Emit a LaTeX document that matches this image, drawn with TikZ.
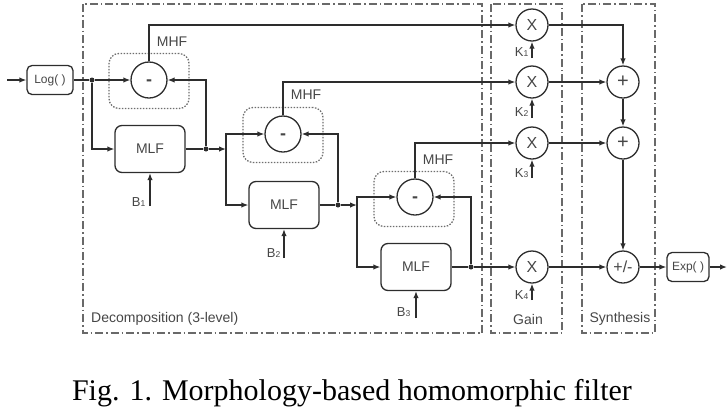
\documentclass[tikz,border=0pt]{standalone}
\usepackage{fontspec}
\setmainfont{Liberation Sans}
\newfontfamily\capfont{Liberation Serif}
\usetikzlibrary{arrows.meta,positioning}
\definecolor{cLine}{RGB}{45,45,45}
\definecolor{cFrame}{RGB}{105,105,105}
\definecolor{cDot}{RGB}{110,110,110}
\definecolor{cText}{RGB}{70,70,70}
\newcommand{\idx}[1]{{\fontsize{8.5}{9}\selectfont\raisebox{-0.8pt}{#1}}}
\newcommand{\mnus}{\raisebox{-5pt}[0pt][0pt]{-}}
\tikzset{
  basebox/.style={rectangle,rounded corners=7pt,draw=cLine,line width=1.3pt,
                  align=center,inner sep=1pt,text=cText},
  mlfnode/.style={basebox,minimum width=70pt,minimum height=47pt,
                  font=\fontsize{14}{16}\selectfont},
  ionode/.style={basebox,rounded corners=5pt,minimum height=29pt,
                 font=\fontsize{12}{14}\selectfont},
  opnode/.style={circle,draw=cLine,line width=1.3pt,minimum size=32pt,
                 inner sep=0pt,text=cText,font=\fontsize{16}{17}\selectfont},
  plusnode/.style={opnode,font=\fontsize{20}{21}\selectfont},
  subnode/.style={opnode,minimum size=36pt,font=\fontsize{18}{19}\selectfont\bfseries},
  mhfbox/.style={rectangle,rounded corners=10pt,draw=cDot,line width=1.3pt,
                 dash pattern=on 1.5pt off 1.5pt,
                 minimum width=80pt,minimum height=55pt},
  framebox/.style={draw=cFrame,line width=1.3pt,
                   dash pattern=on 8pt off 3pt on 1.5pt off 3pt},
  lbl/.style={font=\fontsize{14}{16}\selectfont,text=cText,inner sep=1pt},
  parlbl/.style={font=\fontsize{13}{15}\selectfont,text=cText,inner sep=0.5pt},
  dot/.style={circle,fill=cLine,inner sep=0pt,minimum size=5pt},
  arr/.style={-{Latex[length=7pt,width=5.5pt]},line width=1.3pt,color=cLine},
  ln/.style={line width=1.3pt,color=cLine}
}

\begin{document}
\begin{tikzpicture}[x=1pt,y=-1pt]
  \useasboundingbox (0,0) rectangle (728,408);

  \draw[framebox] (83,4) rectangle (482,333);
  \draw[framebox] (491,4) rectangle (562,333);
  \draw[framebox] (582,4) rectangle (655,333);
  \node[lbl,anchor=west] (declbl) at (90,319) {Decomposition (3-level)};
  \node[lbl] (gainlbl) at (528,319) {Gain};
  \node[lbl] (synlbl) at (620,319) {Synthesis};

  \node[ionode,minimum width=46pt] (log) at (50,80) {Log( )};
  \node[ionode,minimum width=42pt] (exp) at (688,267) {Exp( )};
  \coordinate (in) at (7,80);
  \coordinate (out) at (727,267);

  \node[mhfbox] (mhf1) at (149,81) {};
  \node[subnode] (c1) at (149,80) {\mnus};
  \node[lbl] (mhf1lbl) at (172,42) {MHF};
  \node[mlfnode] (mlf1) at (150,149) {MLF};

  \node[mhfbox] (mhf2) at (283,135) {};
  \node[subnode] (c2) at (283,134) {\mnus};
  \node[lbl] (mhf2lbl) at (306,95) {MHF};
  \node[mlfnode] (mlf2) at (284,205) {MLF};

  \node[mhfbox] (mhf3) at (414,199) {};
  \node[subnode] (c3) at (415,197) {\mnus};
  \node[lbl] (mhf3lbl) at (438,160) {MHF};
  \node[mlfnode] (mlf3) at (416,267) {MLF};

  \node[dot] (j1) at (92,80) {};
  \node[dot] (d1) at (206,149) {};
  \node[dot] (d2) at (338,205) {};
  \node[dot] (d3) at (471,267) {};
  \coordinate (s2) at (226,149);
  \coordinate (s3) at (357,205);

  \node[opnode] (x1) at (532,25) {X};
  \node[opnode] (x2) at (532,82) {X};
  \node[opnode] (x3) at (532,143) {X};
  \node[opnode] (x4) at (532,267) {X};
  \node[plusnode] (p1) at (623,82) {+};
  \node[plusnode] (p2) at (623,143) {+};
  \node[opnode] (pm) at (623,267) {+/-};

  \coordinate (b1) at (150,206);
  \coordinate (b2) at (284,258);
  \coordinate (b3) at (416,318);
  \node[parlbl,anchor=east] (b1lbl) at (146,202) {B\idx{1}};
  \node[parlbl,anchor=east] (b2lbl) at (281,253) {B\idx{2}};
  \node[parlbl,anchor=east] (b3lbl) at (411,312) {B\idx{3}};

  \coordinate (k1) at (532,58);
  \coordinate (k2) at (532,118);
  \coordinate (k3) at (532,178);
  \coordinate (k4) at (532,300);
  \node[parlbl,anchor=east] (k1lbl) at (529,52) {K\idx{1}};
  \node[parlbl,anchor=east] (k2lbl) at (529,112) {K\idx{2}};
  \node[parlbl,anchor=east] (k3lbl) at (529,173) {K\idx{3}};
  \node[parlbl,anchor=east] (k4lbl) at (529,295) {K\idx{4}};

  \foreach \f/\t in {log/j1,mlf1/d1,mlf2/d2,mlf3/d3}
    \draw[ln] (\f) -- (\t);
  \foreach \f/\t in {in/log,j1/c1,d1/s2,d2/s3,d3/x4,x2/p1,p1/p2,x3/p2,p2/pm,
                     x4/pm,pm/exp,exp/out,b1/mlf1,b2/mlf2,b3/mlf3,
                     k1/x1,k2/x2,k3/x3,k4/x4}
    \draw[arr] (\f) -- (\t);
  \foreach \f/\t in {j1/mlf1,d1/c1,s2/c2,s2/mlf2,d2/c2,s3/c3,s3/mlf3,d3/c3,
                     c1/x1,c2/x2,c3/x3}
    \draw[arr] (\f) |- (\t);
  \draw[arr] (x1) -| (p1);

  \node[font=\capfont\fontsize{30}{32}\selectfont,anchor=base] (cap)
      at (352,400) {Fig. 1. Morphology-based homomorphic filter};

\end{tikzpicture}
\end{document}
